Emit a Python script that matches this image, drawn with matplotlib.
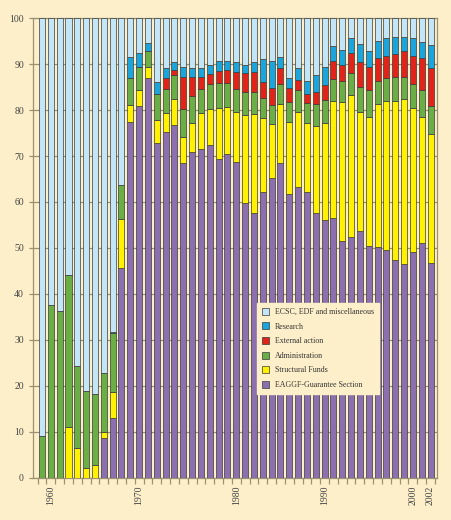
import numpy as np
import matplotlib
matplotlib.use('Agg')
import matplotlib.pyplot as plt

# shares of the budget (%) per bar, bottom to top
eaggf = [0, 0, 0, 0, 0, 0, 0, 8.6, 12.9, 45.6,
         77.4, 80.9, 86.9, 72.8, 75.2, 76.8,
         68.4, 70.9, 71.5, 72.5, 69.4, 70.4, 68.6, 59.7, 57.5, 62.1,
         65.3, 68.4, 61.7, 63.3, 62.1, 57.7, 56.0, 56.5, 51.5, 52.4,
         53.7, 50.4, 50.1, 49.6, 47.3, 46.4, 49.1, 51.1, 46.8]
structural = [0, 0, 0, 11.1, 6.5, 2.1, 2.7, 1.3, 5.7, 10.7,
              3.7, 3.5, 2.6, 5.0, 4.1, 5.6,
              5.8, 6.2, 7.8, 7.7, 11.1, 10.2, 11.0, 19.2, 21.6, 16.1,
              11.6, 12.9, 15.8, 16.2, 15.2, 18.8, 21.1, 25.5, 30.2, 30.8,
              25.8, 28.2, 31.2, 32.4, 34.7, 36.0, 31.3, 27.3, 28.1]
admin = [9.1, 37.5, 36.3, 33.0, 17.8, 16.7, 15.5, 12.8, 12.9, 7.3,
         5.8, 4.9, 3.3, 5.7, 5.3, 5.2,
         6.0, 6.0, 5.4, 5.5, 5.5, 5.3, 4.9, 5.1, 4.9, 4.4,
         4.2, 4.4, 4.2, 4.8, 4.3, 4.8, 5.1, 4.7, 4.6, 4.8,
         5.6, 5.7, 5.1, 5.0, 5.2, 4.8, 5.4, 5.9, 6.1]
external = [0, 0, 0, 0, 0, 0, 0, 0, 0, 0,
            0, 0, 0, 0, 2.3, 1.2,
            7.1, 4.1, 2.6, 2.1, 2.5, 2.9, 3.8, 4.0, 4.2, 3.5,
            3.7, 3.4, 3.1, 2.2, 2.0, 2.7, 3.2, 4.0, 3.5, 4.4,
            5.3, 5.0, 4.9, 4.8, 5.1, 5.6, 6.0, 7.0, 8.1]
research = [0, 0, 0, 0, 0, 0, 0, 0, 0.2, 0,
            4.6, 3.1, 1.9, 2.7, 2.2, 1.6,
            2.2, 1.9, 1.8, 2.0, 2.1, 1.8, 2.2, 1.8, 2.2, 5.1,
            5.9, 2.4, 2.3, 2.6, 2.8, 3.7, 3.9, 3.2, 3.3, 3.4,
            4.0, 3.6, 3.8, 4.0, 3.6, 3.1, 3.9, 3.6, 5.1]
ecsc = [90.9, 62.5, 63.7, 55.9, 75.7, 81.2, 81.8, 77.3, 68.3, 36.4,
        8.5, 7.6, 5.3, 13.8, 10.9, 9.6,
        10.5, 10.9, 10.9, 10.2, 9.4, 9.4, 9.5, 10.2, 9.6, 8.8,
        9.3, 8.5, 12.9, 10.9, 13.6, 12.3, 10.7, 6.1, 6.9, 4.2,
        5.6, 7.1, 4.9, 4.2, 4.1, 4.1, 4.3, 5.1, 5.8]

year_pos = [1, 11, 22, 32, 42, 44]
year_labels = ['1960', '1970', '1980', '1990', '2000', '2002']

series = [
    ('EAGGF-Guarantee Section', eaggf, '#8b6fae'),
    ('Structural Funds', structural, '#fff100'),
    ('Administration', admin, '#6aaf45'),
    ('External action', external, '#e2231a'),
    ('Research', research, '#1aa6dc'),
    ('ECSC, EDF and miscellaneous', ecsc, '#c2e6f7'),
]

bg = '#fdefc9'
gridc = '#9c9170'
plt.rcParams['font.family'] = ['Liberation Serif', 'DejaVu Serif']

fig = plt.figure(figsize=(4.51, 5.20), dpi=100)
fig.patch.set_facecolor(bg)
ax = fig.add_axes([33/451, 1 - 477.5/520, 404/451, 459.2/520])
ax.set_facecolor(bg)

x = np.arange(len(eaggf))
bottom = np.zeros(len(x))
handles = []
for name, vals, col in series:
    v = np.array(vals)
    b = ax.bar(x, v, bottom=bottom, width=0.68, color=col,
               edgecolor='#3a3a3a', linewidth=0.5, label=name, zorder=3)
    handles.append(b)
    bottom += v

ax.set_xlim(-1.02, 44.73)
ax.set_ylim(0, 100)
ax.set_yticks(np.arange(0, 101, 10))
ax.yaxis.grid(True, color=gridc, linewidth=0.9, zorder=0)
ax.set_axisbelow(True)

ax.set_xticks(year_pos)
ax.set_xticklabels(year_labels, rotation=90)
ax.set_xticks(np.arange(-0.5, len(x), 1), minor=True)
ax.tick_params(axis='x', which='major', length=0, pad=6)
ax.tick_params(axis='x', which='minor', length=4, color=gridc, width=0.9)
ax.tick_params(axis='y', length=3, color=gridc, width=0.9)
ax.tick_params(labelsize=7, labelcolor='#444444')
for s in ax.spines.values():
    s.set_color(gridc)
    s.set_linewidth(0.9)

leg = ax.legend(handles[::-1], [s[0] for s in series][::-1],
                loc='upper left', bbox_to_anchor=(0.554, 0.38),
                borderaxespad=0, frameon=True, fontsize=5.7,
                handlelength=1.0, handleheight=1.0, handletextpad=0.7,
                labelspacing=0.8, fancybox=False, borderpad=0.6)
leg.get_frame().set_facecolor(bg)
leg.get_frame().set_edgecolor(bg)
leg.get_frame().set_alpha(1)
for t in leg.get_texts():
    t.set_color('#333333')

fig.savefig('out.png', dpi=100, facecolor=bg)
